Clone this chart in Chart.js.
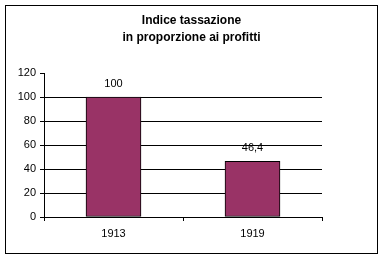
<!DOCTYPE html>
<html>
<head>
<meta charset="utf-8">
<script src="https://cdn.jsdelivr.net/npm/chart.js@4"></script>
<style>
html,body{margin:0;padding:0;background:#fff;}
#wrap{width:384px;height:260px;position:relative;}
</style>
</head>
<body>
<div id="wrap"><canvas id="c" width="384" height="260"></canvas></div>
<script>
const categories = ['1913', '1919'];
const values = [100, 46.4];
const titleLines = ['Indice tassazione', 'in proporzione ai profitti'];
const yMin = 0, yMax = 120, yStep = 20;

const fmt = v => String(v).replace('.', ',');
const FONT = '"Liberation Sans", Arial, sans-serif';

const frame = {
  id: 'frame',
  beforeDraw(chart) {
    const ctx = chart.ctx;
    ctx.save();
    ctx.fillStyle = '#fff';
    ctx.fillRect(0, 0, chart.width, chart.height);
    ctx.strokeStyle = '#000';
    ctx.lineWidth = 1;
    ctx.strokeRect(5.5, 5.5, 372, 248);
    ctx.font = 'bold 12px ' + FONT;
    ctx.fillStyle = '#000';
    ctx.textAlign = 'center';
    ctx.textBaseline = 'middle';
    titleLines.forEach((t, i) => ctx.fillText(t, 191.5, 21 + i * 17));
    ctx.restore();
  }
};

const valueLabels = {
  id: 'valueLabels',
  afterDatasetsDraw(chart) {
    const ctx = chart.ctx;
    const meta = chart.getDatasetMeta(0);
    ctx.save();
    ctx.font = '11px ' + FONT;
    ctx.fillStyle = '#000';
    ctx.textAlign = 'center';
    ctx.textBaseline = 'middle';
    meta.data.forEach((bar, i) => {
      ctx.fillText(fmt(values[i]), bar.x, bar.y - 13);
    });
    ctx.restore();
  }
};

new Chart(document.getElementById('c'), {
  type: 'bar',
  data: {
    labels: categories,
    datasets: [{
      data: values,
      backgroundColor: '#993366',
      borderColor: '#000',
      borderWidth: 1,
      borderSkipped: false,
      barThickness: 55,
      categoryPercentage: 1
    }]
  },
  options: {
    responsive: false,
    animation: false,
    devicePixelRatio: 1,
    layout: { padding: { left: 0, right: 62, top: 73, bottom: 0 } },
    plugins: {
      legend: { display: false },
      tooltip: { enabled: false },
      title: { display: false }
    },
    scales: {
      x: {
        grid: { offset: true, drawOnChartArea: false, tickLength: 4, tickColor: '#000', color: '#000' },
        border: { color: '#000', width: 1 },
        ticks: { color: '#000', padding: 6, font: { family: FONT, size: 11 } },
        afterFit(s) { s.height = 43; }
      },
      y: {
        min: yMin, max: yMax,
        grid: {
          color: ctx => (ctx.tick && ctx.tick.value === yMax) ? 'rgba(0,0,0,0)' : '#000',
          tickColor: '#000',
          tickLength: 4
        },
        border: { color: '#000', width: 1 },
        ticks: { stepSize: yStep, color: '#000', padding: 4, font: { family: FONT, size: 11 } },
        afterFit(s) { s.width = 44; s.paddingTop = 0; s.paddingBottom = 0; }
      }
    }
  },
  plugins: [frame, valueLabels]
});
</script>
</body>
</html>
